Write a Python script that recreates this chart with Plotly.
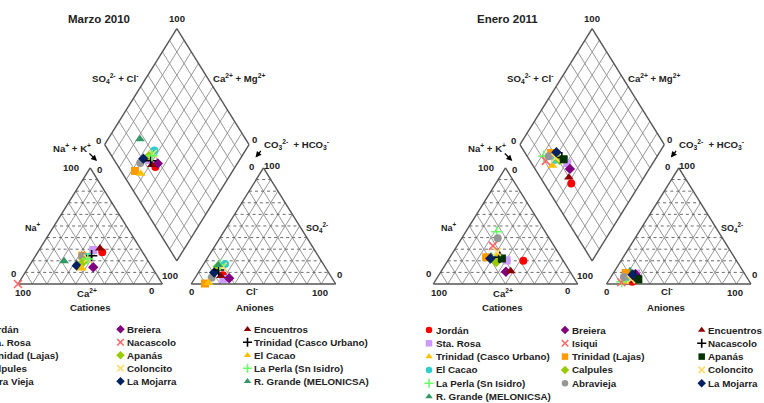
import math
import plotly.graph_objects as go

# ---------------- data (percent of meq) ----------------
sites_2010 = ["Jordán", "Sta. Rosa", "Trinidad (Lajas)", "Calpules", "Abra Vieja",
              "Breiera", "Nacascolo", "Apanás", "Coloncito", "La Mojarra",
              "Encuentros", "Trinidad (Casco Urbano)", "El Cacao", "La Perla (Sn Isidro)",
              "R. Grande (MELONICSA)"]
nak_2010 = [44.7, 37.5, 32.3, 36.9, 32.5, 44.9, 0.0, 35.6, 37.3, 32.8, 41.4, 38.8, 37.4, 37.5, 22.0]
mg_2010 = [27.3, 29.3, 24.4, 23.5, 24.0, 14.4, 0.0, 19.2, 22.0, 15.8, 30.7, 24.4, 13.5, 21.6, 19.8]
ca_2010 = [28.0, 33.2, 43.3, 39.6, 43.5, 40.7, 100.0, 45.2, 40.7, 51.4, 27.9, 36.8, 49.1, 40.9, 58.2]
so4_2010 = [7.5, 4.4, 0.4, 17.2, 5.4, 4.9, None, 14.9, 15.0, 9.9, 7.0, 12.0, 1.0, 16.4, 16.4]
cl_2010 = [18.1, 20.0, 9.3, 14.8, 11.4, 23.8, None, 10.8, 14.3, 10.9, 17.0, 13.0, 11.5, 11.7, 10.5]
hco3_2010 = [74.4, 75.6, 90.3, 68.0, 83.2, 71.3, None, 74.3, 70.7, 79.2, 76.0, 75.0, 87.5, 71.9, 73.1]

sites_2011 = ["Jordán", "Sta. Rosa", "Trinidad (Casco Urbano)", "El Cacao", "La Perla (Sn Isidro)",
              "R. Grande (MELONICSA)", "Breiera", "Isiqui", "Trinidad (Lajas)", "Calpules",
              "Abravieja", "Encuentros", "Nacascolo", "Apanás", "Coloncito", "La Mojarra"]
nak_2011 = [52.3, 40.7, 31.5, 31.0, 21.4, 28.0, 45.0, 24.9, 25.1, 34.1, 24.9, 48.0, 34.5, 36.5, 30.3, 28.5]
mg_2011 = [20.1, 20.3, 25.0, 21.3, 45.0, 24.0, 10.6, 32.8, 23.0, 19.0, 39.4, 11.2, 23.0, 22.0, 27.6, 22.0]
ca_2011 = [27.6, 39.0, 43.5, 47.7, 33.6, 48.0, 44.4, 42.3, 51.9, 46.9, 35.7, 40.8, 42.5, 41.5, 42.1, 49.5]
so4_2011 = [2.0, 9.0, 2.0, 6.0, 2.0, 11.2, 8.5, 1.5, 9.5, 5.0, 6.0, 3.0, 7.0, 4.0, 4.0, 8.0]
cl_2011 = [16.8, 15.8, 11.5, 12.0, 9.5, 10.6, 15.7, 9.5, 8.5, 16.0, 9.0, 16.8, 16.5, 20.0, 15.0, 14.0]
hco3_2011 = [81.2, 75.2, 86.5, 82.0, 88.5, 78.2, 75.8, 89.0, 82.0, 79.0, 85.0, 80.2, 76.5, 76.0, 81.0, 78.0]

# legend entries per column
legend_cols_2010 = [5, 5, 5]
legend_cols_2011 = [6, 5, 5]

# ---------------- styles ----------------
RED, LAV, YEL, CYA, LGR, DGR = "#FF0000", "#CC99FF", "#FFC000", "#33CCCC", "#66FF66", "#339966"
PUR, PRED, ORA, YGR, GRY = "#800080", "#FF6666", "#FF9900", "#99CC00", "#969696"
DRED, BLK, DDG, LYEL, NAVY = "#8B0000", "#000000", "#003300", "#FFD966", "#002060"

style_2010 = {
    "Jordán": ("circle", RED), "Sta. Rosa": ("square", LAV), "Trinidad (Lajas)": ("square", ORA),
    "Calpules": ("circle", CYA), "Abra Vieja": ("circle", GRY), "Breiera": ("diamond", PUR),
    "Nacascolo": ("x-thin", PRED), "Apanás": ("diamond", YGR), "Coloncito": ("x-thin", LYEL),
    "La Mojarra": ("diamond", NAVY), "Encuentros": ("triangle-up", DRED),
    "Trinidad (Casco Urbano)": ("cross-thin", BLK), "El Cacao": ("triangle-up", YEL),
    "La Perla (Sn Isidro)": ("cross-thin", LGR), "R. Grande (MELONICSA)": ("triangle-up", DGR),
}
style_2011 = {
    "Jordán": ("circle", RED), "Sta. Rosa": ("square", LAV), "Trinidad (Casco Urbano)": ("triangle-up", YEL),
    "El Cacao": ("circle", CYA), "La Perla (Sn Isidro)": ("cross-thin", LGR),
    "R. Grande (MELONICSA)": ("triangle-up", DGR), "Breiera": ("diamond", PUR), "Isiqui": ("x-thin", PRED),
    "Trinidad (Lajas)": ("square", ORA), "Calpules": ("diamond", YGR), "Abravieja": ("circle", GRY),
    "Encuentros": ("triangle-up", DRED), "Nacascolo": ("cross-thin", BLK), "Apanás": ("square", DDG),
    "Coloncito": ("x-thin", LYEL), "La Mojarra": ("diamond", NAVY),
}

# ---------------- geometry ----------------
W, H = 764, 403
SX, SY = 144.4, 134.0          # px per Piper unit
Y0 = 284.0                     # px of the triangle bases
X0L, X0R = 18.0, 433.3         # px of cation bottom-left vertex in each panel
GAP = 0.2
HT = math.sqrt(3) / 2
FONT = "Liberation Sans, Arial, sans-serif"
TXT = "#222222"


def cation_xy(ca, mg, na):
    t = ca + mg + na
    return na / t + 0.5 * mg / t, HT * mg / t


def anion_xy(hco3, so4, cl):
    t = hco3 + so4 + cl
    return 1 + GAP + cl / t + 0.5 * so4 / t, HT * so4 / t


def diamond_xy(a, b):
    lx, ly = 0.5 + GAP / 2, HT + GAP * HT
    return lx + 0.5 * a + 0.5 * b, ly - HT * a + HT * b


def to_data(px, py):
    return (px - X0L) / SX, (Y0 - py) / SY


fig = go.Figure()
annotations = []


def add_lines(segs, du, color, width, dash="solid"):
    xs, ys = [], []
    for (x1, y1), (x2, y2) in segs:
        xs += [x1 + du, x2 + du, None]
        ys += [y1, y2, None]
    fig.add_trace(go.Scatter(x=xs, y=ys, mode="lines", hoverinfo="skip", showlegend=False,
                             line=dict(color=color, width=width, dash=dash)))


def draw_frame(du):
    solid, dotted, outline = [], [], []
    for off in (0.0, 1 + GAP):
        A, B, C = (off, 0), (off + 1, 0), (off + 0.5, HT)
        outline += [(A, B), (B, C), (C, A)]
        for k in range(1, 10):
            f = k / 10
            dotted.append(((off + 0.5 * f, HT * f), (off + 1 - 0.5 * f, HT * f)))
            solid.append(((off + f, 0), (off + f + 0.5 * (1 - f), HT * (1 - f))))
            solid.append(((off + 1 - f, 0), (off + 0.5 * (1 - f), HT * (1 - f))))
    for k in range(1, 10):
        f = k / 10
        solid.append((diamond_xy(f, 0), diamond_xy(f, 1)))
        solid.append((diamond_xy(0, f), diamond_xy(1, f)))
    Lp, Bp, Rp, Tp = diamond_xy(0, 0), diamond_xy(1, 0), diamond_xy(1, 1), diamond_xy(0, 1)
    outline += [(Lp, Bp), (Bp, Rp), (Rp, Tp), (Tp, Lp)]
    add_lines(solid, du, "#8C8C8C", 0.9)
    add_lines(dotted, du, "#5A5A5A", 0.9, "dot")
    add_lines(outline, du, "#555555", 1.4)


def marker_dict(sym, col, size):
    if sym in ("x-thin", "cross-thin"):
        return dict(symbol=sym, size=size, color=col, line=dict(color=col, width=1.6))
    return dict(symbol=sym, size=size, color=col, line=dict(width=0))


def draw_points(sites, nak, mg, ca, so4, cl, hco3, styles, du):
    for i, s in enumerate(sites):
        sym, col = styles[s]
        xs, ys = [], []
        cx, cy = cation_xy(ca[i], mg[i], nak[i])
        xs.append(cx + du); ys.append(cy)
        if so4[i] is not None:
            ax_, ay_ = anion_xy(hco3[i], so4[i], cl[i])
            xs.append(ax_ + du); ys.append(ay_)
            t_c = ca[i] + mg[i] + nak[i]
            t_a = hco3[i] + so4[i] + cl[i]
            dx_, dy_ = diamond_xy(nak[i] / t_c, (so4[i] + cl[i]) / t_a)
            xs.append(dx_ + du); ys.append(dy_)
        size = 8 if sym != "triangle-up" else 8.5
        fig.add_trace(go.Scatter(x=xs, y=ys, mode="markers", name=s, showlegend=False,
                                 marker=marker_dict(sym, col, size), cliponaxis=False))


def text(px, py, s, size=9.6, anchor="center", bold=True):
    annotations.append(dict(x=px / W, y=1 - py / H, xref="paper", yref="paper", showarrow=False,
                            text=("<b>%s</b>" % s) if bold else s, xanchor=anchor, yanchor="middle",
                            font=dict(family=FONT, size=size, color=TXT)))


def arrow(px_tail, py_tail, px_head, py_head):
    annotations.append(dict(x=px_head / W, y=1 - py_head / H, xref="paper", yref="paper",
                            ax=px_tail - px_head, ay=py_tail - py_head, axref="pixel", ayref="pixel",
                            text="", showarrow=True, arrowhead=2, arrowsize=1, arrowwidth=1.2,
                            arrowcolor="#000000"))


def draw_labels(dx, title, title_px, cat_px, an_px):
    text(title_px, 19.5, title, size=11.5)
    text(176.7 + dx, 18.5, "100")
    text(115 + dx, 79, "SO<sub>4</sub><sup>2-</sup> + Cl<sup>-</sup>")
    text(239 + dx, 78, "Ca<sup>2+</sup> + Mg<sup>2+</sup>")
    text(98.3 + dx, 140.5, "0")
    text(254.3 + dx, 139.5, "0")
    text(71.5 + dx, 148, "Na<sup>+</sup> + K<sup>+</sup>")
    arrow(88 + dx, 152, 97 + dx, 161)
    text(296 + dx, 144, "CO<sub>3</sub><sup>2-</sup>  + HCO<sub>3</sub><sup>-</sup>")
    arrow(262 + dx, 149.5, 255.5 + dx, 157.5)
    # cation triangle
    text(70.7 + dx, 167.5, "100")
    text(99 + dx, 169.3, "0")
    text(33.3 + dx, 226.7, "Na<sup>+</sup>", size=9)
    text(170 + dx, 275, "100")
    text(13.3 + dx, 273.3, "0")
    text(23.3 + dx, 292.7, "100")
    text(87.3 + dx, 292.7, "Ca<sup>2+</sup>")
    text(151.7 + dx, 290.7, "0")
    text(cat_px, 307.5, "Cationes")
    # anion triangle
    text(251.7 + dx, 166, "0")
    text(271.7 + dx, 165, "100")
    text(316.7 + dx, 227.3, "SO<sub>4</sub><sup>2-</sup>", size=9)
    text(339 + dx, 274.3, "0")
    text(191 + dx, 291, "0")
    text(251.7 + dx, 291, "Cl<sup>-</sup>")
    text(320 + dx, 292.7, "100")
    text(an_px, 307.5, "Aniones")


def draw_legend(sites, styles, col_counts, col_px, row0, drow):
    i = 0
    for c, n in enumerate(col_counts):
        for r in range(n):
            s = sites[i]
            i += 1
            mpx, mpy = col_px[c], row0 + r * drow
            sym, col = styles[s]
            ux, vy = to_data(mpx, mpy)
            fig.add_trace(go.Scatter(x=[ux], y=[vy], mode="markers", showlegend=False,
                                     hoverinfo="skip", marker=marker_dict(sym, col, 6.5),
                                     cliponaxis=False))
            text(mpx + 4.5, mpy, s, size=9.8, anchor="left")


dR = (X0R - X0L) / SX
draw_frame(0.0)
draw_frame(dR)
draw_points(sites_2010, nak_2010, mg_2010, ca_2010, so4_2010, cl_2010, hco3_2010, style_2010, 0.0)
draw_points(sites_2011, nak_2011, mg_2011, ca_2011, so4_2011, cl_2011, hco3_2011, style_2011, dR)
draw_labels(0.0, "Marzo 2010", 99, 90, 255)
draw_labels(X0R - X0L, "Enero 2011", 507, 502, 666)
draw_legend(sites_2010, style_2010, legend_cols_2010, [-20.5, 120.5, 247.5], 329.3, 13.0)
draw_legend(sites_2011, style_2011, legend_cols_2011, [429, 565, 701.7], 330.0, 13.3)

fig.update_layout(
    width=W, height=H, margin=dict(l=0, r=0, t=0, b=0),
    paper_bgcolor="white", plot_bgcolor="white", showlegend=False,
    xaxis=dict(range=[(0 - X0L) / SX, (W - X0L) / SX], visible=False, fixedrange=True),
    yaxis=dict(range=[(Y0 - H) / SY, Y0 / SY], visible=False, fixedrange=True),
    annotations=annotations,
)
fig.write_html("out.html", config={"displayModeBar": False},
               post_script="document.body.style.margin='0';document.body.style.overflow='hidden';")
